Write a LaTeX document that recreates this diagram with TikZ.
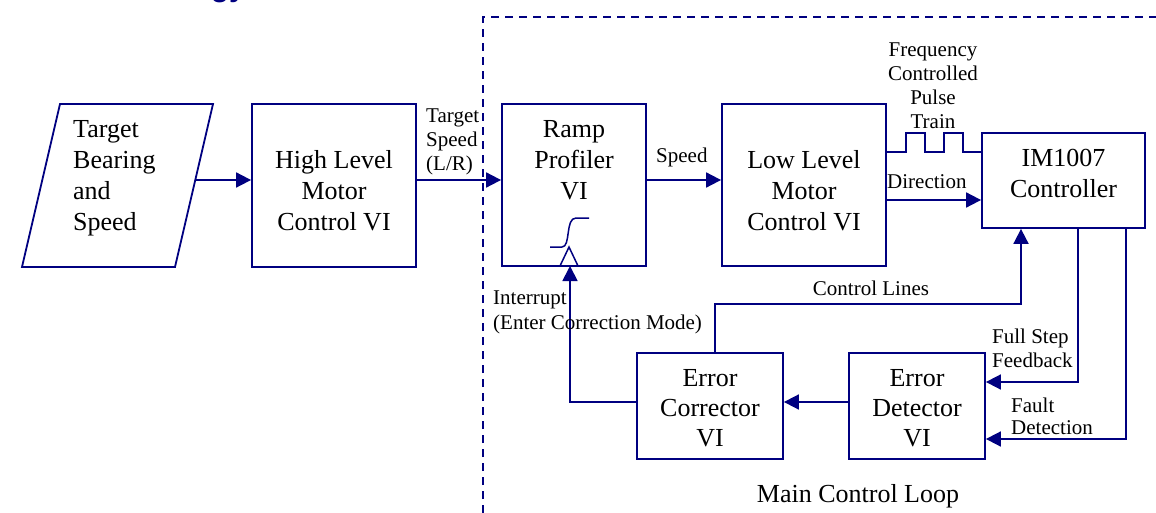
\documentclass[tikz,border=0pt]{standalone}
\usepackage{fontspec}
\setmainfont{Liberation Serif}
\newfontfamily\titlefont{Liberation Sans}
\usetikzlibrary{arrows.meta,calc}
\definecolor{ink}{RGB}{0,0,128}
\newcommand{\boxfont}{\fontsize{26}{31}\selectfont}
\newcommand{\lblfont}{\fontsize{21}{24}\selectfont}
\tikzset{
  blk/.style={draw=ink, line width=1.8pt, inner sep=0pt},
  txt/.style={inner sep=0pt, font=\boxfont, align=center, anchor=north},
  lbl/.style={inner sep=0pt, font=\lblfont, align=left, anchor=north west},
  wire/.style={draw=ink, line width=1.8pt},
  arr/.style={wire, -{Triangle[length=15pt,width=15pt]}},
  dashline/.style={draw=ink, line width=2pt, dash pattern=on 8pt off 6pt}
}
\begin{document}
\begin{tikzpicture}[x=1pt, y=-1pt]
  \useasboundingbox (0,0) rectangle (1156,513);
  \fill[white] (0,0) rectangle (1156,513);
  \clip (0,0) rectangle (1156,513);

  % heading running off the top edge
  \node[anchor=base east, inner sep=0pt, text=ink,
        font=\titlefont\bfseries\fontsize{30}{36}\selectfont] (ttl) at (246,-3) {Methodology};

  % boundary of the main loop
  \draw[dashline] (483,513) -- (483,17) -- (1156,17);

  % input parallelogram
  \coordinate (pA) at (60,104);
  \coordinate (pB) at (213,104);
  \coordinate (pC) at (175,267);
  \coordinate (pD) at (22,267);
  \draw[wire, line join=miter] (pA) -- (pB) -- (pC) -- (pD) -- cycle;
  \coordinate (inp) at (195,180);
  \node[txt, align=left, anchor=north west] (inpT) at (73,120.5) {Target\\Bearing\\and\\Speed};

  % blocks
  \node[blk, minimum width=164pt, minimum height=163pt] (hl) at (334,185.5) {};
  \node[blk, minimum width=144pt, minimum height=162pt] (rp) at (574,185) {};
  \node[blk, minimum width=164pt, minimum height=162pt] (ll) at (804,185) {};
  \node[blk, minimum width=163pt, minimum height=95pt]  (im) at (1063.5,180.5) {};
  \node[blk, minimum width=146pt, minimum height=106pt] (ec) at (710,406) {};
  \node[blk, minimum width=136pt, minimum height=106pt] (ed) at (917,406) {};

  \node[txt] (hlT) at (334,150.5) {High Level\\Motor\\Control VI};
  \node[txt] (rpT) at (574,120.5) {Ramp\\Profiler\\VI};
  \node[txt] (llT) at (804,150.5) {Low Level\\Motor\\Control VI};
  \node[txt] (imT) at (1063.5,149.5) {IM1007\\Controller};
  \node[txt, font=\fontsize{26}{30}\selectfont] (ecT) at (710,369.5) {Error\\Corrector\\VI};
  \node[txt, font=\fontsize{26}{30}\selectfont] (edT) at (917,369.5) {Error\\Detector\\VI};

  % ramp symbol and trigger input of the profiler
  \draw[wire, line width=1.5pt] (550,247) -- (562,247) .. controls (571,247) and (565,218) .. (576,218) -- (589,218);
  \draw[wire, line width=1.5pt, line join=miter] (560,266) -- (569,247) -- (578,266);
  \coordinate (trig) at (570,266);

  % forward path
  \draw[arr] (inp) -- (hl.west |- inp);
  \draw[arr] (hl.east |- inp) -- (rp.west |- inp);
  \draw[arr] (rp.east |- inp) -- (ll.west |- inp);
  \draw[arr] ($(ll.east)+(0,15)$) -- ($(im.west)+(0,19.5)$);
  \draw[wire, line join=miter] ($(ll.east)+(0,-33)$) -- ++(19,0) -- ++(0,-19) -- ++(19,0) -- ++(0,19)
     -- ++(19,0) -- ++(0,-19) -- ++(19,0) -- ++(0,19) -- ($(im.west)+(0,-28.5)$);

  % feedback path
  \draw[arr] ($(im.south)+(14.5,0)$) |- ($(ed.east)+(0,-24)$);
  \draw[arr] ($(im.south)+(62.5,0)$) |- ($(ed.east)+(0,33)$);
  \draw[arr] ($(ed.west)+(0,-4)$) -- ($(ec.east)+(0,-4)$);
  \draw[arr] ($(ec.west)+(0,-4)$) -| (trig);
  \draw[arr] ($(ec.north)+(5,0)$) -- ++(0,-48) -| ($(im.south)+(-42.5,0)$);

  % signal labels
  \node[lbl] (l1) at (426,108.5) {Target\\Speed\\(L/R)};
  \node[lbl] (l2) at (656,147.5) {Speed};
  \node[lbl, align=center, anchor=north] (l3) at (933,42.5) {Frequency\\Controlled\\Pulse\\Train};
  \node[lbl] (l4) at (887,174.5) {Direction};
  \node[lbl, anchor=north] (l5) at (871,280.5) {Control Lines};
  \node[lbl, font=\fontsize{21}{25}\selectfont] (l6) at (493,290.5) {Interrupt\\(Enter Correction Mode)};
  \node[lbl] (l7) at (992,328.5) {Full Step\\Feedback};
  \node[lbl, font=\fontsize{21}{22}\selectfont] (l8) at (1011,397.5) {Fault\\Detection};
  \node[inner sep=0pt, anchor=north, font=\fontsize{26}{30}\selectfont] (loop) at (858,484) {Main Control Loop};
\end{tikzpicture}
\end{document}
